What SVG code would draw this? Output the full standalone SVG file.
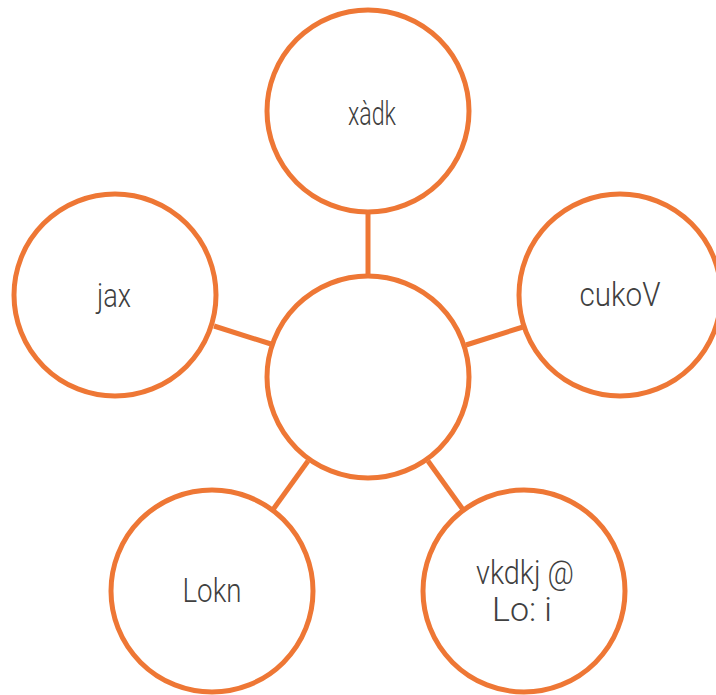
<svg xmlns="http://www.w3.org/2000/svg" width="716" height="695" viewBox="0 0 716 695">
<style>
.n{fill:#ffffff;stroke:#EE7735;stroke-width:5}
.c{stroke:#EE7735;stroke-width:5;fill:none}
.t{font-family:Roboto,"Liberation Sans",Arial,sans-serif;font-weight:300;font-size:33px;fill:#404040;text-anchor:middle}
</style>
<rect width="716" height="695" fill="#ffffff"/>
<g id="connectors">
<line class="c" x1="368" y1="213" x2="368" y2="276"/>
<line class="c" x1="214" y1="326" x2="271" y2="344"/>
<line class="c" x1="466" y1="345" x2="523" y2="327"/>
<line class="c" x1="308" y1="461" x2="272" y2="511"/>
<line class="c" x1="428" y1="461" x2="464" y2="511"/>
</g>
<g id="center"><circle class="n" cx="368" cy="377" r="101"/></g>
<g id="top"><circle class="n" cx="368" cy="111" r="101"/><text class="t" x="372" y="125" textLength="48" lengthAdjust="spacingAndGlyphs">xàdk</text></g>
<g id="left"><circle class="n" cx="115" cy="295" r="101"/><text class="t" x="114" y="307" textLength="34" lengthAdjust="spacingAndGlyphs">jax</text></g>
<g id="right"><circle class="n" cx="620" cy="295" r="101"/><text class="t" x="620" y="306" textLength="81" lengthAdjust="spacingAndGlyphs">cukoV</text></g>
<g id="bottomleft"><circle class="n" cx="212" cy="591" r="101"/><text class="t" x="212" y="602" textLength="59" lengthAdjust="spacingAndGlyphs">Lokn</text></g>
<g id="bottomright"><circle class="n" cx="524" cy="591" r="101"/><text class="t" x="525" y="584" textLength="98" lengthAdjust="spacingAndGlyphs">vkdkj @</text><text class="t" x="522" y="621" textLength="60" lengthAdjust="spacingAndGlyphs">Lo: i</text></g>
</svg>
